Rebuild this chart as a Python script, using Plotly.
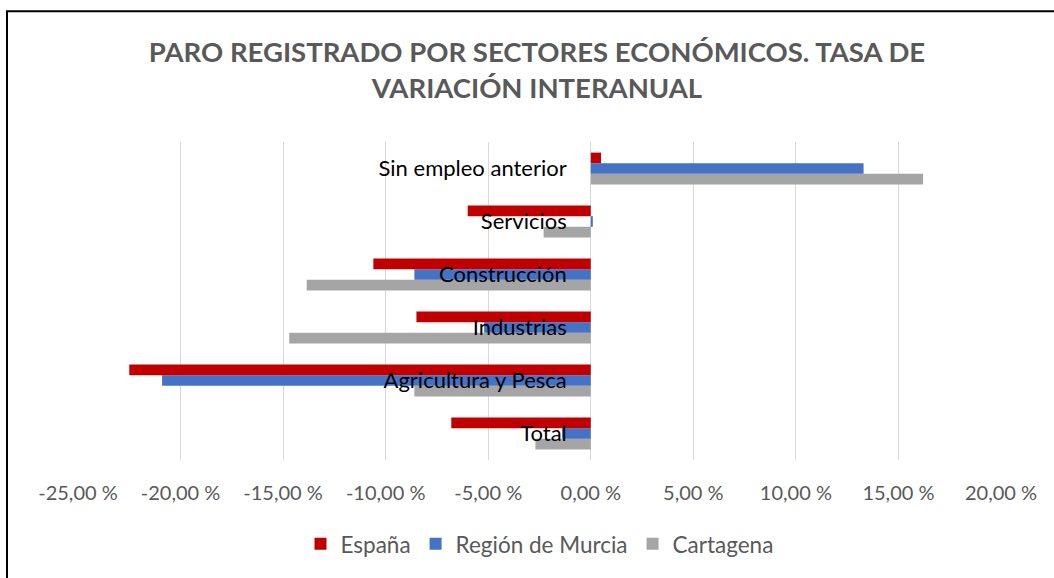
import plotly.graph_objects as go

# categories bottom -> top (as drawn)
sectores = ["Total", "Agricultura y Pesca", "Industrias", "Construcción",
            "Servicios", "Sin empleo anterior"]

espana = [-6.8, -22.5, -8.5, -10.6, -6.0, 0.5]
murcia = [-1.4, -20.9, -5.2, -8.6, 0.1, 13.3]
cartagena = [-2.7, -8.6, -14.7, -13.85, -2.3, 16.2]

x_ticks = [-25, -20, -15, -10, -5, 0, 5, 10, 15, 20]
x_labels = ["-25,00 %", "-20,00 %", "-15,00 %", "-10,00 %", "-5,00 %",
            "0,00 %", "5,00 %", "10,00 %", "15,00 %", "20,00 %"]

FONT = "Lato"
GREY_TXT = "#595959"

fig = go.Figure()
for name, vals, color in [
    ("Cartagena", cartagena, "#A5A5A5"),
    ("Región de Murcia", murcia, "#4472C4"),
    ("España", espana, "#C00000"),
]:
    fig.add_trace(go.Bar(y=sectores, x=vals, name=name, orientation="h",
                         marker=dict(color=color, line=dict(width=0))))

# plot area in pixels
L, R, T, B = 78, 53, 142, 115
W, H = 1054 - L - R, 578 - T - B
def px(x): return (x - L) / W
def py(y): return (578 - B - y) / H

# chart frame (only top/left edges fall inside the picture)
fig.add_shape(type="rect", xref="paper", yref="paper",
              x0=px(7), x1=px(1070), y0=py(600), y1=py(10),
              line=dict(color="black", width=2), layer="below")

fig.update_layout(
    width=1054, height=578,
    barmode="group", bargap=0.4, bargroupgap=0,
    paper_bgcolor="white", plot_bgcolor="white",
    margin=dict(l=L, r=R, t=T, b=B),
    font=dict(family=FONT, color=GREY_TXT),
    title=dict(text="<b>PARO REGISTRADO POR SECTORES ECONÓMICOS. TASA DE<br>VARIACIÓN INTERANUAL</b>",
               xref="container", x=537 / 1054, xanchor="center",
               yref="container", y=1 - 62 / 578, yanchor="top",
               font=dict(size=27.5, color=GREY_TXT, family=FONT)),
    legend=dict(orientation="h", x=0.5, xanchor="center", y=py(548), yanchor="middle",
                traceorder="reversed", font=dict(size=22.5, color=GREY_TXT),
                itemwidth=30),
    showlegend=True,
)
fig.update_xaxes(range=[-25, 20], tickvals=x_ticks, ticktext=x_labels,
                 showgrid=True, gridcolor="#D9D9D9", gridwidth=1,
                 zeroline=True, zerolinecolor="#D9D9D9", zerolinewidth=1,
                 showline=False, ticks="", ticklabelstandoff=19,
                 tickfont=dict(size=20, color=GREY_TXT))
fig.update_yaxes(anchor="free", position=25 / 45, showline=False, ticks="",
                 showgrid=False, ticklabelstandoff=24,
                 tickfont=dict(size=22, color="black"))

fig.write_html("out.html", config={"displayModeBar": False},
               post_script="document.body.style.margin='0';")
